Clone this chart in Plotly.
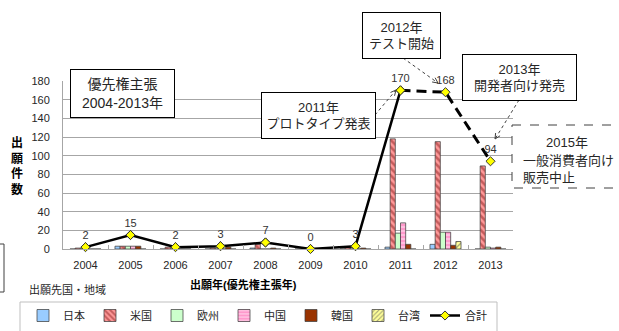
import math
import plotly.graph_objects as go

# Application counts by priority year and filing country/region
years = [2004, 2005, 2006, 2007, 2008, 2009, 2010, 2011, 2012, 2013]
japan = [0, 3, 0, 0, 1, 0, 0, 2, 5, 0]
us = [1, 3, 2, 1, 5, 0, 2, 118, 115, 89]
europe = [1, 3, 0, 0, 0, 0, 0, 17, 18, 2]
china = [0, 3, 0, 0, 0, 0, 0, 28, 18, 1]
korea = [0, 3, 0, 2, 1, 0, 1, 5, 4, 2]
taiwan = [0, 0, 0, 0, 0, 0, 0, 0, 8, 0]
total = [2, 15, 2, 3, 7, 0, 3, 170, 168, 94]

FONT = "Liberation Sans, Noto Sans CJK JP, sans-serif"
TXT = "#262626"

# plot-area box in pixels (left, right, top, bottom)
PL, PR, PT, PB = 63, 513, 81, 249


def px(x):
    return (x - PL) / (PR - PL)


def py(y):
    return (PB - y) / (PB - PT)


fig = go.Figure()

bar_line = dict(color="#404040", width=0.75)
series = [
    ("日本", japan, "#99ccff", None),
    ("米国", us, "#ff9999", dict(shape="\\", fgcolor="#8c2020", size=5, solidity=0.5, fillmode="overlay")),
    ("欧州", europe, "#ccffcc", None),
    ("中国", china, "#ff99cc", dict(shape="-", fgcolor="#ffffff", size=4, solidity=0.35, fillmode="overlay")),
    ("韓国", korea, "#993300", None),
    ("台湾", taiwan, "#ffff99", dict(shape="/", fgcolor="#555555", size=4, solidity=0.35, fillmode="overlay")),
]
for name, vals, col, pat in series:
    marker = dict(color=col, line=bar_line)
    if pat:
        marker["pattern"] = pat
    fig.add_trace(go.Bar(x=years, y=vals, name=name, marker=marker))

# total line: solid through 2011, dashed afterwards
fig.add_trace(go.Scatter(
    x=years[:8], y=total[:8], name="合計", mode="lines+markers",
    line=dict(color="#000000", width=2.5),
    marker=dict(symbol="diamond", size=7, color="#ffff00", line=dict(color="#333333", width=1)),
))
fig.add_trace(go.Scatter(
    x=years[7:], y=total[7:], mode="lines", showlegend=False,
    line=dict(color="#000000", width=3, dash="10px,6px"),
))
fig.add_trace(go.Scatter(
    x=years, y=total, mode="markers+text", showlegend=False,
    text=[str(v) for v in total], textposition="top center",
    textfont=dict(size=11, color="#333333", family=FONT),
    marker=dict(symbol="diamond", size=7, color="#ffff00", line=dict(color="#333333", width=1)),
    cliponaxis=False,
))

shapes = []
annotations = []


def box(cx, cy, w, h, text, size=13):
    annotations.append(dict(
        xref="paper", yref="paper", x=px(cx), y=py(cy), xanchor="center", yanchor="middle",
        text=text, showarrow=False, width=w, height=h, bgcolor="#ffffff",
        bordercolor="#000000", borderwidth=1, borderpad=0,
        font=dict(size=size, color=TXT, family=FONT),
    ))


def arrow(x0, y0, x1, y1):
    shapes.append(dict(type="line", xref="paper", yref="paper",
                       x0=px(x0), y0=py(y0), x1=px(x1), y1=py(y1),
                       line=dict(color="#404040", width=1, dash="dot")))
    ang = math.atan2(y1 - y0, x1 - x0)
    pts = []
    for d in (0.45, -0.45):
        pts.append((x1 - 6 * math.cos(ang + d), y1 - 6 * math.sin(ang + d)))
    path = "M{},{} L{},{} L{},{}".format(px(pts[0][0]), py(pts[0][1]), px(x1), py(y1),
                                        px(pts[1][0]), py(pts[1][1]))
    shapes.append(dict(type="path", xref="paper", yref="paper", path=path,
                       line=dict(color="#404040", width=1)))


box(122.5, 93.5, 103, 47, "優先権主張<br>2004-2013年", size=14)
box(318.5, 115.5, 113, 45, "2011年<br>プロトタイプ発表")
box(401.5, 35.5, 77, 45, "2012年<br>テスト開始")
box(519.5, 77.5, 113, 45, "2013年<br>開発者向け発売")

arrow(375, 115, 396, 90)
arrow(403, 58, 438, 83)
arrow(519, 100, 495, 139)

# dashed note box at right edge
shapes.append(dict(type="rect", xref="paper", yref="paper",
                   x0=px(512), y0=py(125), x1=px(630), y1=py(188),
                   line=dict(color="#404040", width=1, dash="dash"), fillcolor="#ffffff", layer="above"))
annotations.append(dict(xref="paper", yref="paper", x=px(567), y=py(142), xanchor="center", yanchor="middle",
                        text="2015年", showarrow=False, font=dict(size=13, color=TXT, family=FONT)))
annotations.append(dict(xref="paper", yref="paper", x=px(521), y=py(169), xanchor="left", yanchor="middle",
                        text="一般消費者向け<br>販売中止", align="left", showarrow=False,
                        font=dict(size=13, color=TXT, family=FONT)))

# small frame on left edge
shapes.append(dict(type="path", xref="paper", yref="paper",
                   path="M{},{} L{},{} L{},{} L{},{}".format(px(-5), py(244), px(4), py(244),
                                                             px(4), py(292), px(-5), py(292)),
                   line=dict(color="#404040", width=1)))

# legend frame
shapes.append(dict(type="rect", xref="paper", yref="paper",
                   x0=px(20), y0=py(302), x1=px(497), y1=py(340),
                   line=dict(color="#bfbfbf", width=1)))

# axis titles and caption
annotations.append(dict(xref="paper", yref="paper", x=px(17), y=py(166), xanchor="center", yanchor="middle",
                        text="<b>出<br>願<br>件<br>数</b>", showarrow=False,
                        font=dict(size=12, color="#000000", family=FONT)))
annotations.append(dict(xref="paper", yref="paper", x=px(243), y=py(284), xanchor="center", yanchor="middle",
                        text="<b>出願年(優先権主張年)</b>", showarrow=False,
                        font=dict(size=11, color="#000000", family=FONT)))
annotations.append(dict(xref="paper", yref="paper", x=px(27), y=py(290), xanchor="left", yanchor="middle",
                        text="出願先国・地域", showarrow=False,
                        font=dict(size=11, color=TXT, family=FONT)))

fig.update_layout(
    width=619, height=331,
    margin=dict(l=PL, r=619 - PR, t=PT, b=331 - PB, pad=0, autoexpand=False),
    paper_bgcolor="#ffffff", plot_bgcolor="#ffffff",
    barmode="group", bargap=0.31, bargroupgap=0,
    font=dict(family=FONT, size=11, color=TXT),
    showlegend=True,
    legend=dict(orientation="h", x=px(23), y=py(301), xanchor="left", yanchor="top",
                font=dict(size=11, color=TXT, family=FONT),
                entrywidth=22, entrywidthmode="pixels",
                bgcolor="rgba(0,0,0,0)", borderwidth=0, tracegroupgap=0),
    shapes=shapes,
    annotations=annotations,
)
fig.update_xaxes(
    range=[2003.5, 2013.5], tickvals=years, ticktext=[str(y) for y in years],
    showgrid=False, zeroline=False, showline=True, linecolor="#a6a6a6", linewidth=1,
    ticks="", ticklabelstandoff=6, tickfont=dict(size=11, color=TXT),
    minor=dict(tickvals=[y + 0.5 for y in years[:-1]], ticks="inside", ticklen=4,
               tickcolor="#a6a6a6", showgrid=False),
)
fig.update_yaxes(
    range=[0, 180], dtick=20, showgrid=True, gridcolor="#a6a6a6", gridwidth=1,
    zeroline=False, showline=True, linecolor="#a6a6a6", linewidth=1,
    ticks="", ticklabelstandoff=10, tickfont=dict(size=11, color=TXT),
)

fig.write_html("out.html")
